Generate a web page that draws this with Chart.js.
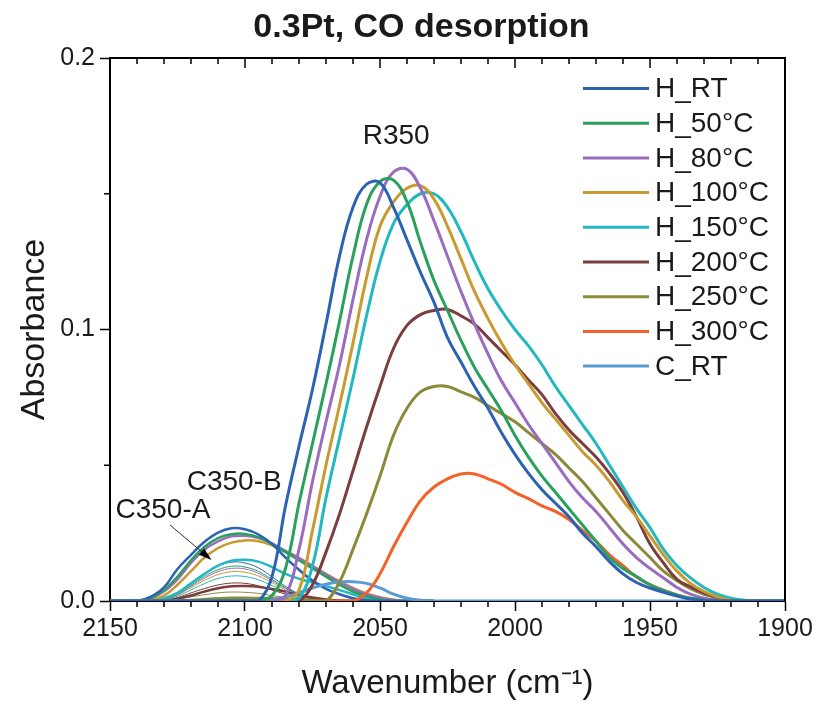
<!DOCTYPE html>
<html>
<head>
<meta charset="utf-8">
<title>0.3Pt, CO desorption</title>
<script src="https://cdn.jsdelivr.net/npm/chart.js@4.4.1/dist/chart.umd.min.js"></script>
<style>
  html, body { margin: 0; padding: 0; background: #fff; }
  #wrap { width: 819px; height: 704px; }
</style>
</head>
<body>
<div id="wrap"><canvas id="chartCO"></canvas></div>
<script>
// wavenumber grid (cm-1), 5 cm-1 steps
const wavenumbers = [
  2150, 2145, 2140, 2135, 2130, 2125, 2120, 2115, 2110, 2105,
  2100, 2095, 2090, 2085, 2080, 2075, 2070, 2065, 2060, 2055,
  2050, 2045, 2040, 2035, 2030, 2025, 2020, 2015, 2010, 2005,
  2000, 1995, 1990, 1985, 1980, 1975, 1970, 1965, 1960, 1955,
  1950, 1945, 1940, 1935, 1930, 1925, 1920, 1915, 1910, 1905,
  1900
];
// shorter grid for the C350 components
const wnSmall = [
  2150, 2145, 2140, 2135, 2130, 2125, 2120, 2115, 2110, 2105,
  2100, 2095, 2090, 2085, 2080, 2075, 2070, 2065, 2060, 2055,
  2050, 2045, 2040, 2035, 2030
];

const chartTitle = "0.3Pt, CO desorption";
const seriesNames = ["H_RT", "H_50°C", "H_80°C", "H_100°C", "H_150°C", "H_200°C", "H_250°C", "H_300°C", "C_RT"];
const seriesColors = ["#2b62b3", "#29a05c", "#9a6cbf", "#c89a2f", "#22b8c0", "#7b3d3d", "#8b8a38", "#f4622a", "#5b9bd5"];

// R350 band
const hRT = [
  0, 0, 0, 0, 0, 0, 0, 0, 0, 0,
  0, 0, 0.009, 0.035, 0.057, 0.078, 0.102, 0.127, 0.145, 0.1535,
  0.154, 0.145, 0.133, 0.121, 0.110, 0.097, 0.088, 0.079, 0.071, 0.062,
  0.054, 0.047, 0.041, 0.036, 0.031, 0.025, 0.020, 0.0145, 0.010, 0.0068,
  0.0048, 0.0032, 0.0018, 0.0007, 0.0002, 0, 0, 0, 0, 0,
  0
];
const h50 = [
  0, 0, 0, 0, 0, 0, 0, 0, 0, 0,
  0, 0, 0.002, 0.012, 0.036, 0.058, 0.080, 0.103, 0.127, 0.146,
  0.1545, 0.155, 0.147, 0.132, 0.118, 0.107, 0.096, 0.086, 0.078, 0.070,
  0.061, 0.053, 0.046, 0.040, 0.034, 0.028, 0.022, 0.016, 0.012, 0.009,
  0.006, 0.0038, 0.0022, 0.001, 0.0004, 0.0001, 0, 0, 0, 0,
  0
];
const h80 = [
  0, 0, 0, 0, 0, 0, 0, 0, 0, 0,
  0, 0, 0, 0.002, 0.019, 0.044, 0.066, 0.087, 0.111, 0.133,
  0.149, 0.158, 0.159, 0.152, 0.140, 0.127, 0.114, 0.102, 0.091, 0.081,
  0.073, 0.065, 0.058, 0.051, 0.044, 0.038, 0.033, 0.027, 0.021, 0.016,
  0.012, 0.0085, 0.005, 0.0025, 0.001, 0.0003, 0, 0, 0, 0,
  0
];
const h100 = [
  0, 0, 0, 0, 0, 0, 0, 0, 0, 0,
  0, 0, 0, 0, 0.004, 0.026, 0.050, 0.072, 0.095, 0.119,
  0.138, 0.147, 0.152, 0.153, 0.148, 0.138, 0.126, 0.114, 0.104, 0.095,
  0.087, 0.080, 0.073, 0.067, 0.061, 0.055, 0.050, 0.044, 0.037, 0.031,
  0.024, 0.017, 0.011, 0.0065, 0.0035, 0.0015, 0.0003, 0, 0, 0,
  0
];
const h150 = [
  0, 0, 0, 0, 0, 0, 0, 0, 0, 0,
  0, 0, 0, 0, 0.001, 0.013, 0.038, 0.060, 0.082, 0.105,
  0.125, 0.139, 0.146, 0.150, 0.150, 0.145, 0.136, 0.125, 0.115, 0.107,
  0.100, 0.094, 0.087, 0.079, 0.072, 0.065, 0.058, 0.050, 0.042, 0.034,
  0.027, 0.019, 0.013, 0.0085, 0.005, 0.0025, 0.001, 0.0003, 0, 0,
  0
];
const h200 = [
  0, 0, 0, 0, 0, 0, 0, 0, 0, 0,
  0, 0, 0, 0, 0, 0.006, 0.018, 0.032, 0.048, 0.064,
  0.079, 0.093, 0.1015, 0.1055, 0.107, 0.1074, 0.105, 0.102, 0.097, 0.092,
  0.087, 0.0814, 0.076, 0.069, 0.063, 0.058, 0.053, 0.047, 0.040, 0.031,
  0.021, 0.014, 0.008, 0.0052, 0.003, 0.0012, 0.0003, 0, 0, 0,
  0
];
const h250 = [
  0, 0, 0, 0, 0, 0, 0, 0, 0, 0,
  0, 0, 0, 0, 0, 0, 0, 0.007, 0.019, 0.032,
  0.046, 0.061, 0.071, 0.077, 0.079, 0.079, 0.077, 0.075, 0.072, 0.069,
  0.066, 0.062, 0.058, 0.054, 0.049, 0.044, 0.038, 0.032, 0.026, 0.021,
  0.016, 0.011, 0.0075, 0.0045, 0.0025, 0.0012, 0.0004, 0.0001, 0, 0,
  0
];
const h300 = [
  0, 0, 0, 0, 0, 0, 0, 0, 0, 0,
  0, 0, 0, 0, 0, 0, 0, 0, 0, 0.003,
  0.010, 0.020, 0.029, 0.037, 0.042, 0.045, 0.0468, 0.0468, 0.045, 0.043,
  0.040, 0.0377, 0.035, 0.033, 0.030, 0.026, 0.022, 0.017, 0.013, 0.0088,
  0.006, 0.0040, 0.0022, 0.001, 0.0003, 0, 0, 0, 0, 0,
  0
];
const cRT = [
  0, 0, 0, 0, 0, 0, 0, 0, 0, 0,
  0, 0, 0.0005, 0.0015, 0.003, 0.0048, 0.0062, 0.0070, 0.0071, 0.0065,
  0.0048, 0.0025, 0.001, 0.0003, 0, 0, 0, 0, 0, 0,
  0, 0, 0, 0, 0, 0, 0, 0, 0, 0,
  0, 0, 0, 0, 0, 0, 0, 0, 0, 0,
  0
];

// C350-B band (thick lines, on wnSmall)
const bRT  = [0, 0, 0, 0.0015, 0.005, 0.0118, 0.017, 0.0218, 0.0252, 0.0268, 0.0264, 0.0245, 0.021, 0.016, 0.0115, 0.0075, 0.0045, 0.0025, 0.001, 0.0003, 0, 0, 0, 0, 0];
const b50  = [0, 0, 0, 0.001, 0.004, 0.009, 0.015, 0.020, 0.0232, 0.0246, 0.0247, 0.0235, 0.021, 0.018, 0.015, 0.012, 0.009, 0.006, 0.0035, 0.0018, 0.0006, 0, 0, 0, 0];
const b80  = [0, 0, 0, 0.001, 0.0035, 0.008, 0.014, 0.019, 0.022, 0.0238, 0.024, 0.0232, 0.0212, 0.0185, 0.0158, 0.0128, 0.0098, 0.007, 0.0045, 0.0025, 0.0012, 0.0004, 0, 0, 0];
const b100 = [0, 0, 0, 0.0005, 0.002, 0.006, 0.011, 0.016, 0.0195, 0.0215, 0.0223, 0.022, 0.0205, 0.0183, 0.0158, 0.013, 0.010, 0.0072, 0.0048, 0.0028, 0.0014, 0.0005, 0, 0, 0];
const b150 = [0, 0, 0, 0, 0.001, 0.003, 0.0065, 0.010, 0.013, 0.0148, 0.0152, 0.0145, 0.0125, 0.010, 0.0082, 0.0068, 0.0055, 0.004, 0.0025, 0.001, 0.0003, 0, 0, 0, 0];
const b200 = [0, 0, 0, 0, 0, 0.0008, 0.002, 0.0035, 0.0047, 0.0054, 0.0055, 0.0052, 0.0044, 0.0034, 0.0023, 0.0013, 0.0006, 0.0002, 0, 0, 0, 0, 0, 0, 0];
const b250 = [0, 0, 0, 0, 0, 0.0002, 0.0004, 0.0007, 0.001, 0.0012, 0.0012, 0.0011, 0.001, 0.0007, 0.0005, 0.0002, 0.0001, 0, 0, 0, 0, 0, 0, 0, 0];

// C350-A band (thin lines, on wnSmall)
const aRT  = [0, 0, 0, 0, 0.0007, 0.0029, 0.0064, 0.0100, 0.0129, 0.0143, 0.0140, 0.0122, 0.0089, 0.0054, 0.0026, 0.0009, 0.0001, 0, 0, 0, 0, 0, 0, 0, 0];
const a50  = [0, 0, 0, 0, 0.0006, 0.0026, 0.0058, 0.0090, 0.0115, 0.0128, 0.0125, 0.0109, 0.0079, 0.0049, 0.0023, 0.0008, 0.0001, 0, 0, 0, 0, 0, 0, 0, 0];
const a80  = [0, 0, 0, 0, 0.0006, 0.0024, 0.0054, 0.0084, 0.0108, 0.0120, 0.0118, 0.0102, 0.0074, 0.0046, 0.0022, 0.0007, 0.0001, 0, 0, 0, 0, 0, 0, 0, 0];
const a100 = [0, 0, 0, 0, 0.0005, 0.0022, 0.0049, 0.0076, 0.0097, 0.0108, 0.0106, 0.0092, 0.0067, 0.0041, 0.0019, 0.0006, 0.0001, 0, 0, 0, 0, 0, 0, 0, 0];
const a150 = [0, 0, 0, 0, 0.0005, 0.0018, 0.0041, 0.0064, 0.0083, 0.0092, 0.0090, 0.0078, 0.0057, 0.0035, 0.0017, 0.0006, 0.0001, 0, 0, 0, 0, 0, 0, 0, 0];
const a200 = [0, 0, 0, 0, 0.0003, 0.0013, 0.0030, 0.0046, 0.0059, 0.0066, 0.0065, 0.0056, 0.0041, 0.0025, 0.0012, 0.0004, 0, 0, 0, 0, 0, 0, 0, 0, 0];
const a250 = [0, 0, 0, 0, 0.0002, 0.0007, 0.0015, 0.0023, 0.0030, 0.0033, 0.0032, 0.0028, 0.0020, 0.0013, 0.0006, 0.0002, 0, 0, 0, 0, 0, 0, 0, 0, 0];

const mainSeries = [hRT, h50, h80, h100, h150, h200, h250, h300, cRT];
const bandB = [bRT, b50, b80, b100, b150, b200, b250];
const bandA = [aRT, a50, a80, a100, a150, a200, a250];

const peakLabels = [
  { text: "R350", wn: 2044, abs: 0.1712 },
  { text: "C350-B", wn: 2104, abs: 0.0437 },
  { text: "C350-A", wn: 2130.4, abs: 0.0333 }
];
const arrowFrom = { wn: 2127.8, abs: 0.028 };
const arrowTo = { wn: 2112.4, abs: 0.0151 };

const SANS = "'Liberation Sans', Arial, sans-serif";
const INK = "#1a1a1a";

function toPoints(xs, ys) {
  return ys.map((v, i) => ({ x: xs[i], y: v }));
}

const datasets = [];
mainSeries.forEach((ys, i) => {
  datasets.push({
    label: seriesNames[i],
    inLegend: true,
    data: toPoints(wavenumbers, ys),
    borderColor: seriesColors[i],
    borderWidth: 3,
    pointRadius: 0,
    tension: 0.4,
    fill: false
  });
});
bandB.forEach((ys, i) => {
  datasets.push({
    label: seriesNames[i] + " C350-B",
    data: toPoints(wnSmall, ys),
    borderColor: seriesColors[i],
    borderWidth: 2.5,
    pointRadius: 0,
    tension: 0.4,
    fill: false
  });
});
bandA.forEach((ys, i) => {
  datasets.push({
    label: seriesNames[i] + " C350-A",
    data: toPoints(wnSmall, ys),
    borderColor: seriesColors[i],
    borderWidth: 1,
    pointRadius: 0,
    tension: 0.4,
    fill: false
  });
});

// box on top/right, minor ticks
const frameTicks = {
  id: "frameTicks",
  afterDraw(chart) {
    const { ctx, chartArea: a, scales: { x, y } } = chart;
    ctx.save();
    ctx.strokeStyle = "#000";
    ctx.lineWidth = 2;
    ctx.beginPath();
    ctx.moveTo(a.left, a.top);
    ctx.lineTo(a.right, a.top);
    ctx.lineTo(a.right, a.bottom);
    ctx.stroke();
    ctx.lineWidth = 1.5;
    ctx.beginPath();
    for (let v = 1900; v <= 2150; v += 10) {
      const px = x.getPixelForValue(v);
      const major = v % 50 === 0;
      if (!major) {
        ctx.moveTo(px, a.bottom);
        ctx.lineTo(px, a.bottom + 6);
      }
      ctx.moveTo(px, a.top);
      ctx.lineTo(px, a.top + (major ? 10 : 6));
    }
    [0.05, 0.15].forEach(v => {
      const py = y.getPixelForValue(v);
      ctx.moveTo(a.left, py);
      ctx.lineTo(a.left - 6, py);
    });
    ctx.stroke();
    ctx.restore();
  }
};

// figure title, a little right of the canvas centre as in the original
const figTitle = {
  id: "figTitle",
  afterDraw(chart) {
    const { ctx } = chart;
    ctx.save();
    ctx.fillStyle = INK;
    ctx.font = "bold 34px " + SANS;
    ctx.textAlign = "center";
    ctx.textBaseline = "middle";
    ctx.fillText(chartTitle, chart.width / 2 + 12, 28);
    ctx.restore();
  }
};

// peak labels and arrow
const peakNotes = {
  id: "peakNotes",
  afterDatasetsDraw(chart) {
    const { ctx, scales: { x, y } } = chart;
    ctx.save();
    ctx.fillStyle = INK;
    ctx.font = "28px " + SANS;
    ctx.textAlign = "center";
    ctx.textBaseline = "middle";
    peakLabels.forEach(p => ctx.fillText(p.text, x.getPixelForValue(p.wn), y.getPixelForValue(p.abs)));

    const x1 = x.getPixelForValue(arrowFrom.wn), y1 = y.getPixelForValue(arrowFrom.abs);
    const x2 = x.getPixelForValue(arrowTo.wn), y2 = y.getPixelForValue(arrowTo.abs);
    const ang = Math.atan2(y2 - y1, x2 - x1);
    ctx.strokeStyle = "#333";
    ctx.lineWidth = 1;
    ctx.beginPath();
    ctx.moveTo(x1, y1);
    ctx.lineTo(x2 - 8 * Math.cos(ang), y2 - 8 * Math.sin(ang));
    ctx.stroke();
    ctx.fillStyle = "#000";
    ctx.beginPath();
    ctx.moveTo(x2, y2);
    ctx.lineTo(x2 - 13 * Math.cos(ang) + 4 * Math.sin(ang), y2 - 13 * Math.sin(ang) - 4 * Math.cos(ang));
    ctx.lineTo(x2 - 13 * Math.cos(ang) - 4 * Math.sin(ang), y2 - 13 * Math.sin(ang) + 4 * Math.cos(ang));
    ctx.closePath();
    ctx.fill();
    ctx.restore();
  }
};

// legend inside the plot, top right
const insideLegend = {
  id: "insideLegend",
  afterDatasetsDraw(chart) {
    const { ctx, chartArea: a } = chart;
    const items = chart.data.datasets.filter(d => d.inLegend);
    const lineX = a.right - 202;
    const textX = a.right - 130;
    const rowY = a.top + 30.5;
    const pitch = 34.7;
    ctx.save();
    ctx.font = "28px " + SANS;
    ctx.textBaseline = "middle";
    ctx.textAlign = "left";
    items.forEach((d, i) => {
      const yy = rowY + i * pitch;
      ctx.strokeStyle = d.borderColor;
      ctx.lineWidth = 3;
      ctx.beginPath();
      ctx.moveTo(lineX, yy);
      ctx.lineTo(lineX + 66, yy);
      ctx.stroke();
      ctx.fillStyle = INK;
      ctx.fillText(d.label, textX, yy + 1);
    });
    ctx.restore();
  }
};

new Chart(document.getElementById("chartCO"), {
  type: "line",
  data: { datasets },
  plugins: [frameTicks, figTitle, peakNotes, insideLegend],
  options: {
    responsive: true,
    maintainAspectRatio: false,
    animation: false,
    layout: { padding: { left: 14, right: 34, top: 58, bottom: 0 } },
    plugins: {
      legend: { display: false },
      tooltip: { enabled: false },
      title: { display: false }
    },
    scales: {
      x: {
        type: "linear",
        reverse: true,
        min: 1900,
        max: 2150,
        ticks: {
          stepSize: 50,
          maxRotation: 0,
          color: INK,
          padding: 3,
          font: { family: SANS, size: 25 },
          callback: v => String(v)
        },
        grid: { drawOnChartArea: false, tickLength: 10, tickWidth: 1.5, tickColor: "#000" },
        border: { color: "#000", width: 2 },
        title: {
          display: true,
          text: "Wavenumber (cm⁻¹)",
          color: INK,
          font: { family: SANS, size: 33, lineHeight: 1.2 },
          padding: { top: 6, bottom: 0 }
        },
        afterFit(scale) { scale.height = 103; }
      },
      y: {
        min: 0,
        max: 0.2,
        ticks: {
          stepSize: 0.1,
          color: INK,
          padding: 5,
          font: { family: SANS, size: 25 },
          callback: v => v.toFixed(1)
        },
        grid: { drawOnChartArea: false, tickLength: 10, tickWidth: 1.5, tickColor: "#000" },
        border: { color: "#000", width: 2 },
        title: {
          display: true,
          text: "Absorbance",
          color: INK,
          font: { family: SANS, size: 34, lineHeight: 1.2 },
          padding: 0
        },
        afterFit(scale) { scale.width = 96; }
      }
    }
  }
});
</script>
</body>
</html>
